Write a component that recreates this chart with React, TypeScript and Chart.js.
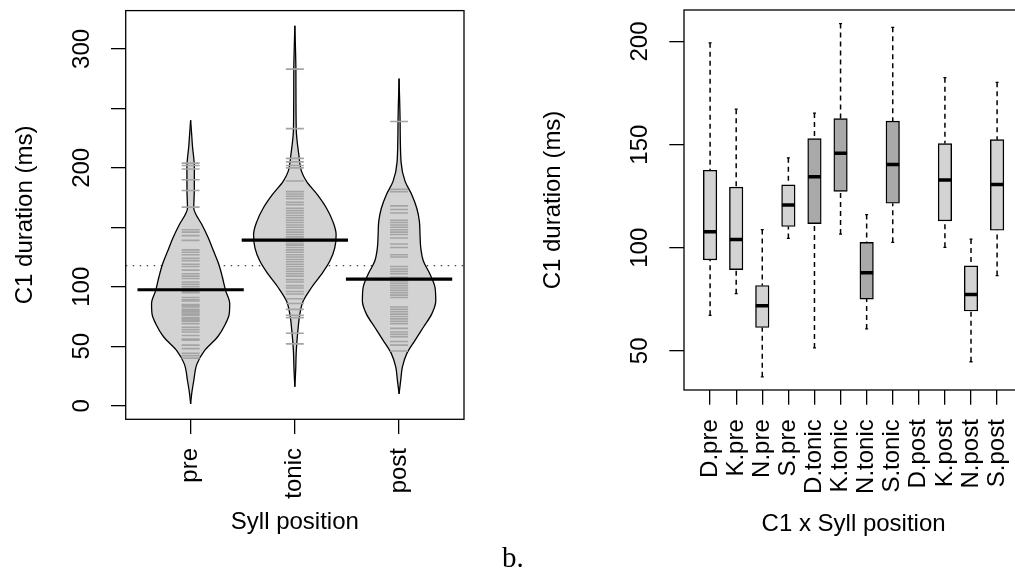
import React, { useEffect, useRef } from 'react';
import { Chart, registerables } from 'chart.js';

Chart.register(...registerables);

const SANS = '"Liberation Sans", Arial, Helvetica, sans-serif';
const AXIS_FONT = { family: SANS, size: 24 };

// ---------------- Left panel: bean plot ----------------
const beanCategories = ['pre', 'tonic', 'post'];
const beanPositions = [1, 2, 3];
const beanMeans = [97.5, 139.3, 106.4];
const overallMean = 117.8;
const leftYTicks = [0, 50, 100, 150, 200, 250, 300];
const leftYTickLabels = ['0', '50', '100', '', '200', '', '300'];

// bean outlines: duration level (ms) and half-width of the density (category units)
const preLevels = [1.5, 10, 21, 35, 46, 58, 69, 77, 86, 97, 108, 119, 130, 141, 152, 161, 166, 180, 200, 219, 228, 240];
const preHalfWidth = [0, 0.01, 0.03, 0.06, 0.13, 0.26, 0.335, 0.37, 0.375, 0.335, 0.305, 0.27, 0.22, 0.17, 0.11, 0.05, 0.03, 0.035, 0.036, 0.017, 0.01, 0];
const tonicLevels = [16, 30, 46.5, 63, 77, 88, 99.4, 110.6, 121.7, 132.8, 144, 155, 166, 177.4, 188.6, 197, 211, 233, 283, 300, 319.5];
const tonicHalfWidth = [0, 0.008, 0.014, 0.029, 0.048, 0.08, 0.16, 0.256, 0.336, 0.383, 0.396, 0.364, 0.304, 0.216, 0.112, 0.064, 0.038, 0.013, 0.01, 0.006, 0];
const postLevels = [10, 21.5, 32.6, 43.8, 55, 66, 77, 88, 99.4, 110.6, 121.7, 132.8, 144, 155, 166, 177.4, 188.6, 205, 239, 275];
const postHalfWidth = [0, 0.016, 0.032, 0.074, 0.153, 0.233, 0.313, 0.352, 0.345, 0.297, 0.233, 0.208, 0.201, 0.195, 0.17, 0.122, 0.058, 0.019, 0.01, 0];

// individual observations (bean lines)
const preObs = [204, 202, 199, 190, 181, 167, 148, 146, 143, 139, 131, 129, 127, 124, 122, 119, 117, 114, 111, 109, 107, 104, 102, 100, 98, 96, 95, 91, 89, 88, 85, 84, 83, 81, 80, 79, 78, 77, 76, 74, 73, 72, 71, 69, 66, 64, 62, 59, 56, 55, 51, 48, 44, 42, 40];
const tonicObs = [283, 233, 208, 205, 202, 200, 189, 180, 178, 176, 174, 171, 169, 166, 164, 162, 160, 158, 156, 154, 152, 150, 148, 146, 144, 142, 140, 138, 136, 135, 133, 131, 129, 127, 125, 123, 121, 119, 117, 115, 113, 111, 109, 106, 104, 101, 99, 96, 94, 90, 86, 81, 76, 74, 61, 52];
const postObs = [239, 182, 180, 168, 165, 162, 156, 154, 152, 150, 148, 146, 144, 141, 136, 133, 127, 125, 117, 115, 113, 111, 108, 105, 103, 101, 99, 97, 95, 93, 91, 83, 81, 79, 77, 75, 73, 71, 69, 65, 62, 60, 58, 54, 51, 46];

// ---------------- Right panel: box plot ----------------
const boxCategories = ['D.pre', 'K.pre', 'N.pre', 'S.pre', 'D.tonic', 'K.tonic', 'N.tonic', 'S.tonic', 'D.post', 'K.post', 'N.post', 'S.post'];
const boxGroups = ['pre', 'pre', 'pre', 'pre', 'tonic', 'tonic', 'tonic', 'tonic', 'post', 'post', 'post', 'post'];
const boxLow = [67.2, 77.7, 37.4, 104.5, 51.4, 106.6, 60.6, 102.6, null, 100.2, 44.7, 86.5];
const boxQ1 = [94.1, 89.4, 61.3, 110.3, 111.7, 127.3, 75.1, 121.6, null, 113.0, 69.3, 108.5];
const boxMedian = [107.7, 104.0, 71.9, 120.7, 134.4, 145.8, 87.9, 140.4, null, 132.8, 77.3, 130.7];
const boxQ3 = [137.6, 129.4, 81.7, 130.5, 152.9, 162.6, 102.6, 161.4, null, 150.5, 91.2, 152.4];
const boxHigh = [199.4, 167.2, 108.8, 143.6, 165.3, 208.7, 116.1, 206.9, null, 182.5, 104.2, 180.2];
const rightYTicks = [50, 100, 150, 200];

const LIGHT = '#d3d3d3';
const DARK = '#a9a9a9';

const framePlugin = {
  id: 'frame',
  afterDraw(chart: any) {
    const { ctx, chartArea: a } = chart;
    ctx.save();
    ctx.strokeStyle = '#000';
    ctx.lineWidth = 1.3;
    ctx.strokeRect(a.left, a.top, a.right - a.left, a.bottom - a.top);
    ctx.restore();
  },
};

const gridTicks = { drawOnChartArea: false, drawTicks: true, tickLength: 14.7, color: '#000', lineWidth: 1.3, offset: false };

function fixHeight(h: number) {
  return (s: any) => { s.height = h; s.paddingLeft = 0; s.paddingRight = 0; s.paddingTop = 0; s.paddingBottom = 0; };
}
function fixWidth(w: number) {
  return (s: any) => { s.width = w; s.paddingLeft = 0; s.paddingRight = 0; s.paddingTop = 0; s.paddingBottom = 0; };
}

function LeftPanel() {
  const ref = useRef<HTMLCanvasElement>(null);
  useEffect(() => {
    const beans = [
      { levels: preLevels, hw: preHalfWidth, obs: preObs },
      { levels: tonicLevels, hw: tonicHalfWidth, obs: tonicObs },
      { levels: postLevels, hw: postHalfWidth, obs: postObs },
    ];
    const datasets: any[] = [];
    datasets.push({
      data: [{ x: 0.377, y: overallMean }, { x: 3.623, y: overallMean }],
      borderColor: '#444', borderWidth: 1.2, borderDash: [1.5, 5.5], pointRadius: 0, tension: 0, fill: false, order: 5,
    });
    beans.forEach((b, i) => {
      const c = beanPositions[i];
      const leftIdx = datasets.length;
      datasets.push({
        data: b.levels.map((y, k) => ({ x: c - b.hw[k], y })),
        borderColor: '#000', borderWidth: 1.3, pointRadius: 0, fill: false, cubicInterpolationMode: 'monotone', order: 3,
      });
      datasets.push({
        data: b.levels.map((y, k) => ({ x: c + b.hw[k], y })),
        borderColor: '#000', borderWidth: 1.3, pointRadius: 0, fill: leftIdx, backgroundColor: LIGHT, cubicInterpolationMode: 'monotone', order: 3,
      });
      datasets.push({
        data: b.obs.map((y) => ({ x: c, y })),
        showLine: false, pointStyle: 'line', pointRadius: 9, pointBorderWidth: 1.6, pointBorderColor: '#a4a4a4', order: 2,
      });
      datasets.push({
        data: [{ x: c - 0.51, y: beanMeans[i] }, { x: c + 0.51, y: beanMeans[i] }],
        borderColor: '#000', borderWidth: 3.2, pointRadius: 0, tension: 0, fill: false, order: 0,
      });
    });

    const chart = new Chart(ref.current!, {
      type: 'line',
      data: { datasets },
      options: {
        animation: false,
        responsive: true,
        maintainAspectRatio: false,
        events: [],
        indexAxis: 'y',
        layout: { padding: { top: 8, right: 36, bottom: 0, left: 0 } },
        plugins: { legend: { display: false }, tooltip: { enabled: false } },
        scales: {
          x: {
            type: 'linear', min: 0.377, max: 3.623, offset: false,
            afterBuildTicks: (s: any) => { s.ticks = beanPositions.map((v) => ({ value: v })); },
            afterFit: fixHeight(153.7),
            grid: gridTicks,
            border: { display: false },
            ticks: { autoSkip: false, minRotation: 90, maxRotation: 90, padding: 14, color: '#000', font: AXIS_FONT, callback: (_v: any, i: number) => beanCategories[i] },
            title: { display: true, text: 'Syll position', color: '#000', font: AXIS_FONT, padding: { top: 0, bottom: 36.4 } },
          },
          y: {
            type: 'linear', min: -11.4, max: 332.2,
            afterBuildTicks: (s: any) => { s.ticks = leftYTicks.map((v) => ({ value: v })); },
            afterFit: fixWidth(125.7),
            grid: gridTicks,
            border: { display: false },
            ticks: { autoSkip: false, minRotation: 90, maxRotation: 90, crossAlign: 'center', padding: 8.3, color: '#000', font: AXIS_FONT, callback: (_v: any, i: number) => leftYTickLabels[i] },
            title: { display: true, text: 'C1 duration (ms)', color: '#000', font: AXIS_FONT, padding: { top: 10.6, bottom: 0 } },
          },
        },
      } as any,
      plugins: [framePlugin],
    });
    return () => chart.destroy();
  }, []);
  return (
    <div style={{ position: 'absolute', left: 0, top: 0, width: 500, height: 573 }}>
      <canvas ref={ref} />
    </div>
  );
}

function RightPanel() {
  const ref = useRef<HTMLCanvasElement>(null);
  useEffect(() => {
    const pos = boxCategories.map((_, i) => i + 1);
    const present = pos.map((_, i) => i).filter((i) => boxQ1[i] != null);
    const colors = boxGroups.map((g) => (g === 'tonic' ? DARK : LIGHT));
    const datasets: any[] = [
      {
        type: 'bar',
        data: present.map((i) => ({ x: pos[i], y: [boxQ1[i], boxQ3[i]] })),
        backgroundColor: present.map((i) => colors[i]),
        borderColor: '#000', borderWidth: 1.4, borderSkipped: false, barThickness: 13.5, order: 2,
      },
      {
        type: 'line',
        data: present.flatMap((i) => [{ x: pos[i], y: boxHigh[i] }, { x: pos[i], y: boxQ3[i] }, { x: pos[i], y: null }]),
        borderColor: '#000', borderWidth: 1.5, borderDash: [5, 4], pointRadius: 0, spanGaps: false, tension: 0, fill: false, order: 3,
      },
      {
        type: 'line',
        data: present.flatMap((i) => [{ x: pos[i], y: boxLow[i] }, { x: pos[i], y: boxQ1[i] }, { x: pos[i], y: null }]),
        borderColor: '#000', borderWidth: 1.5, borderDash: [5, 4], pointRadius: 0, spanGaps: false, tension: 0, fill: false, order: 3,
      },
      {
        type: 'line',
        data: present.flatMap((i) => [{ x: pos[i], y: boxLow[i] }, { x: pos[i], y: boxHigh[i] }]),
        showLine: false, pointStyle: 'line', pointRadius: 1.5, pointBorderWidth: 1.3, pointBorderColor: '#000', order: 1,
      },
      {
        type: 'line',
        data: present.map((i) => ({ x: pos[i], y: boxMedian[i] })),
        showLine: false, pointStyle: 'line', pointRadius: 6.5, pointBorderWidth: 3.5, pointBorderColor: '#000', order: 0,
      },
    ];
    const chart = new Chart(ref.current!, {
      type: 'bar',
      data: { datasets },
      options: {
        animation: false,
        responsive: true,
        maintainAspectRatio: false,
        events: [],
        layout: { padding: { top: 8, right: 16.8, bottom: 0, left: 0 } },
        plugins: { legend: { display: false }, tooltip: { enabled: false } },
        scales: {
          x: {
            type: 'linear', min: 0, max: 13, offset: false,
            afterBuildTicks: (s: any) => { s.ticks = pos.map((v) => ({ value: v })); },
            afterFit: fixHeight(183),
            grid: gridTicks,
            border: { display: false },
            ticks: { autoSkip: false, minRotation: 90, maxRotation: 90, padding: 14.5, color: '#000', font: AXIS_FONT, callback: (_v: any, i: number) => boxCategories[i] },
            title: { display: true, text: 'C1 x Syll position', color: '#000', font: AXIS_FONT, padding: { top: 0, bottom: 34.7 } },
          },
          y: {
            type: 'linear', min: 31.0, max: 215.3,
            afterBuildTicks: (s: any) => { s.ticks = rightYTicks.map((v) => ({ value: v })); },
            afterFit: fixWidth(184),
            grid: gridTicks,
            border: { display: false },
            ticks: { autoSkip: false, minRotation: 90, maxRotation: 90, crossAlign: 'center', padding: 9.3, color: '#000', font: AXIS_FONT, callback: (v: any) => String(v) },
            title: { display: true, text: 'C1 duration (ms)', color: '#000', font: AXIS_FONT, padding: { top: 39, bottom: 0 } },
          },
        },
      } as any,
      plugins: [framePlugin],
    });
    return () => chart.destroy();
  }, []);
  return (
    <div style={{ position: 'absolute', left: 500, top: 0, width: 540, height: 573 }}>
      <canvas ref={ref} />
    </div>
  );
}

export default function App() {
  return (
    <div style={{ position: 'absolute', left: 0, top: 0, width: 1015, height: 573, overflow: 'hidden', background: '#fff' }}>
      <LeftPanel />
      <RightPanel />
      <div style={{ position: 'absolute', left: 502, top: 543, fontFamily: '"Liberation Serif", "Times New Roman", serif', fontSize: 29, lineHeight: '29px', color: '#000' }}>b.</div>
    </div>
  );
}
